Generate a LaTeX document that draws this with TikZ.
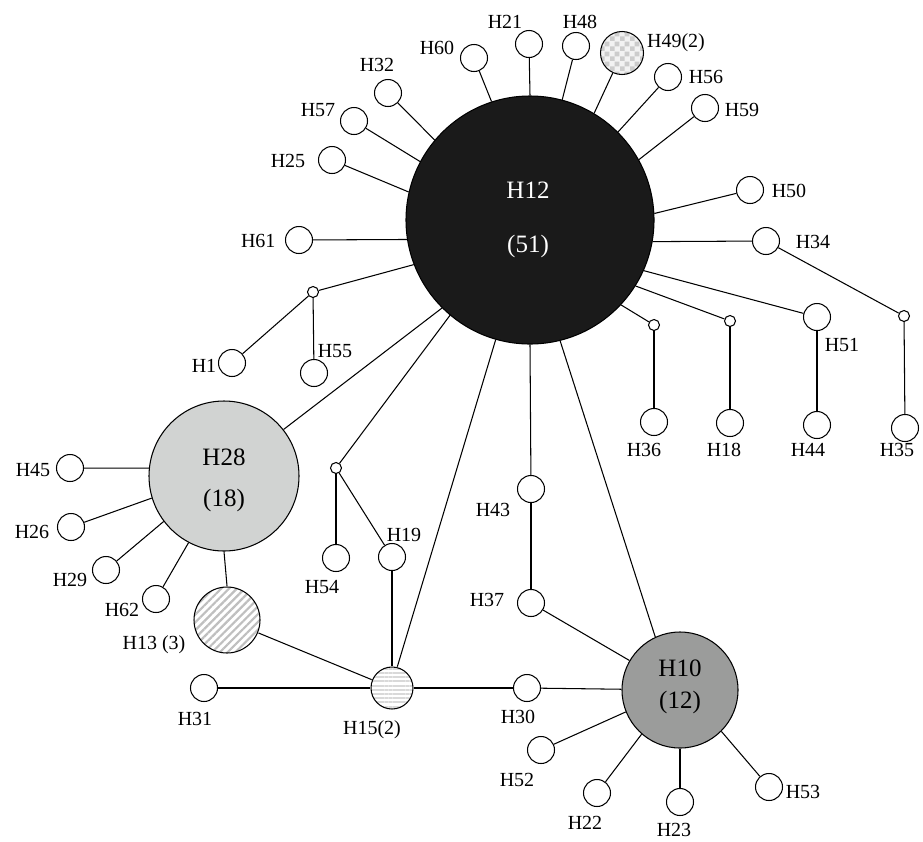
\documentclass[tikz,border=0pt]{standalone}
\usepackage{fontspec}
\setmainfont{Liberation Serif}
\usetikzlibrary{patterns,patterns.meta}
\tikzdeclarepattern{
  name=mychecks,
  type=uncolored,
  bottom left={(0pt,0pt)},
  top right={(10pt,10pt)},
  tile size={(10pt,10pt)},
  code={\fill (0pt,0pt) rectangle (5pt,5pt); \fill (5pt,5pt) rectangle (10pt,10pt);}
}
\definecolor{hblack}{RGB}{26,26,26}
\definecolor{hlight}{RGB}{209,211,210}
\definecolor{hmid}{RGB}{155,156,155}
\begin{document}
\begin{tikzpicture}[x=1pt,y=-1pt,line width=1.05pt,
  hap/.style={circle,draw,fill=white,minimum size=27pt,inner sep=0pt},
  junc/.style={circle,draw,fill=white,minimum size=11pt,inner sep=0pt},
  lab/.style={inner sep=0pt,font=\fontsize{20}{24}\selectfont,text height=13pt,text depth=0pt},
  big/.style={inner sep=0pt,font=\fontsize{25}{30}\selectfont,text height=16.5pt,text depth=0pt},
  link/.style={line width=1.05pt}]
\useasboundingbox (0,0) rectangle (923,841);
% main haplotypes
\node[hap,minimum size=248pt,fill=hblack] (H12) at (530,220) {};
\node[hap,minimum size=150pt,fill=hlight] (H28) at (224,476) {};
\node[hap,minimum size=116pt,fill=hmid] (H10) at (680,690) {};
\node[hap,minimum size=66pt,pattern={Lines[angle=45,distance=5.5pt,line width=2.2pt]},pattern color=gray!50] (H13) at (227,620) {};
\node[hap,minimum size=42pt,pattern={Lines[angle=0,distance=4.2pt,line width=2pt]},pattern color=gray!30] (H15) at (392,688) {};
\node[hap,minimum size=43pt,preaction={fill=gray!10},pattern=mychecks,pattern color=gray!40] (H49) at (622,53) {};
% small haplotypes
\node[hap] (H21) at (529,44) {};
\node[hap] (H48) at (576,46) {};
\node[hap] (H56) at (668,77) {};
\node[hap] (H59) at (705,108) {};
\node[hap] (H60) at (474,58) {};
\node[hap] (H32) at (388,93) {};
\node[hap] (H57) at (354,121) {};
\node[hap] (H25) at (332,160) {};
\node[hap] (H61) at (299,240) {};
\node[hap] (H50) at (750,190) {};
\node[hap] (H34) at (766,241) {};
\node[hap] (H51) at (817,317) {};
\node[hap] (H44) at (817,425) {};
\node[junc] (J5) at (904,316) {};
\node[hap] (H35) at (905,428) {};
\node[junc] (J4) at (730,321) {};
\node[hap] (H18) at (730,423) {};
\node[junc] (J3) at (654,325) {};
\node[hap] (H36) at (654,422) {};
\node[junc] (J1) at (313,292) {};
\node[hap] (H1) at (232,363) {};
\node[hap] (H55) at (314,373) {};
\node[junc] (J2) at (336,468) {};
\node[hap] (H54) at (336,558) {};
\node[hap] (H19) at (392,557) {};
\node[hap] (H43) at (531,489) {};
\node[hap] (H37) at (531,603) {};
\node[hap] (H31) at (204,688) {};
\node[hap] (H30) at (527,688) {};
\node[hap] (H52) at (541,750) {};
\node[hap] (H22) at (597,793) {};
\node[hap] (H23) at (680,802) {};
\node[hap] (H53) at (769,787) {};
\node[hap] (H45) at (70,468) {};
\node[hap] (H26) at (71,527) {};
\node[hap] (H29) at (106,570) {};
\node[hap] (H62) at (156,599) {};
% connectors from H12
\draw[link] (H12.90) -- (H21);
\draw[link] (H12.75) -- (H48);
\draw[link] (H12.59.5) -- (H49);
\draw[link] (H12.45) -- (H56);
\draw[link] (H12.29) -- (H59);
\draw[link] (H12.108) -- (H60);
\draw[link] (H12.140) -- (H32);
\draw[link] (H12.152) -- (H57);
\draw[link] (H12.167) -- (H25);
\draw[link] (H12.189) -- (H61);
\draw[link] (H12.3) -- (H50);
\draw[link] (H12.-10) -- (H34);
\draw[link] (H12.-24) -- (H51);
\draw[link] (H12.-32) -- (J4);
\draw[link] (H12.-43) -- (J3);
\draw[link] (H34) -- (J5);
\draw[link] (J5) -- (H35);
\draw[link] (J4) -- (H18);
\draw[link] (J3) -- (H36);
\draw[link] (H51) -- (H44);
\draw[link] (H12.201.8) -- (J1);
\draw[link] (J1) -- (H1);
\draw[link] (J1) -- (H55);
\draw[link] (H12.225) -- (H28.38.5);
\draw[link] (H12.230.4) -- (J2);
\draw[link] (J2) -- (H54);
\draw[link] (J2) -- (H19);
\draw[link] (H19) -- (H15);
\draw[link] (H12.254) -- (H15.76);
\draw[link] (H12.south) -- (H43);
\draw[link] (H43) -- (H37);
\draw[link] (H37) -- (H10);
\draw[link] (H12.284.5) -- (H10.115);
% connectors from H28
\draw[link] (H28.174) -- (H45);
\draw[link] (H28.197.7) -- (H26);
\draw[link] (H28.217.6) -- (H29);
\draw[link] (H28.242.4) -- (H62);
\draw[link] (H28.south) -- (H13.north);
% lower chain
\draw[link] (H13) -- (H15);
\draw[link] (H31) -- (H15);
\draw[link] (H15) -- (H30);
\draw[link] (H30) -- (H10);
% connectors from H10
\draw[link] (H10.202.7) -- (H52);
\draw[link] (H10.229.8) -- (H22);
\draw[link] (H10.270) -- (H23);
\draw[link] (H10.315) -- (H53);
% texts inside big circles
\node[big,text=white] (tH12a) at (528,190) {H12};
\node[big,text=white] (tH12b) at (528,244) {(51)};
\node[big] (tH28a) at (224,457) {H28};
\node[big] (tH28b) at (224,498) {(18)};
\node[big] (tH10a) at (680,668) {H10};
\node[big] (tH10b) at (680,700) {(12)};
% labels
\node[lab] (lH21) at (505,22) {H21};
\node[lab] (lH48) at (580,22) {H48};
\node[lab] (lH49) at (676,41) {H49(2)};
\node[lab] (lH56) at (706,77) {H56};
\node[lab] (lH59) at (742,110) {H59};
\node[lab] (lH60) at (437,48) {H60};
\node[lab] (lH32) at (377,65) {H32};
\node[lab] (lH57) at (318,110) {H57};
\node[lab] (lH25) at (288,161) {H25};
\node[lab,anchor=east] (lH61) at (276,241) {H61};
\node[lab] (lH50) at (789,191) {H50};
\node[lab] (lH34) at (813,242) {H34};
\node[lab] (lH51) at (842,345) {H51};
\node[lab] (lH36) at (644,450) {H36};
\node[lab] (lH18) at (724,450) {H18};
\node[lab] (lH44) at (808,450) {H44};
\node[lab] (lH35) at (897,450) {H35};
\node[lab] (lH1) at (204,366) {H1};
\node[lab] (lH55) at (335,351) {H55};
\node[lab] (lH45) at (33,470) {H45};
\node[lab] (lH26) at (32,532) {H26};
\node[lab] (lH29) at (70,580) {H29};
\node[lab] (lH62) at (122,610) {H62};
\node[lab] (lH13) at (154,643) {H13 (3)};
\node[lab] (lH54) at (322,587) {H54};
\node[lab] (lH19) at (404,535) {H19};
\node[lab] (lH43) at (493,510) {H43};
\node[lab] (lH37) at (487,600) {H37};
\node[lab] (lH31) at (195,719) {H31};
\node[lab] (lH15) at (372,728) {H15(2)};
\node[lab] (lH30) at (518,717) {H30};
\node[lab] (lH52) at (517,780) {H52};
\node[lab] (lH22) at (585,823) {H22};
\node[lab] (lH23) at (674,830) {H23};
\node[lab] (lH53) at (803,792) {H53};
\end{tikzpicture}
\end{document}
